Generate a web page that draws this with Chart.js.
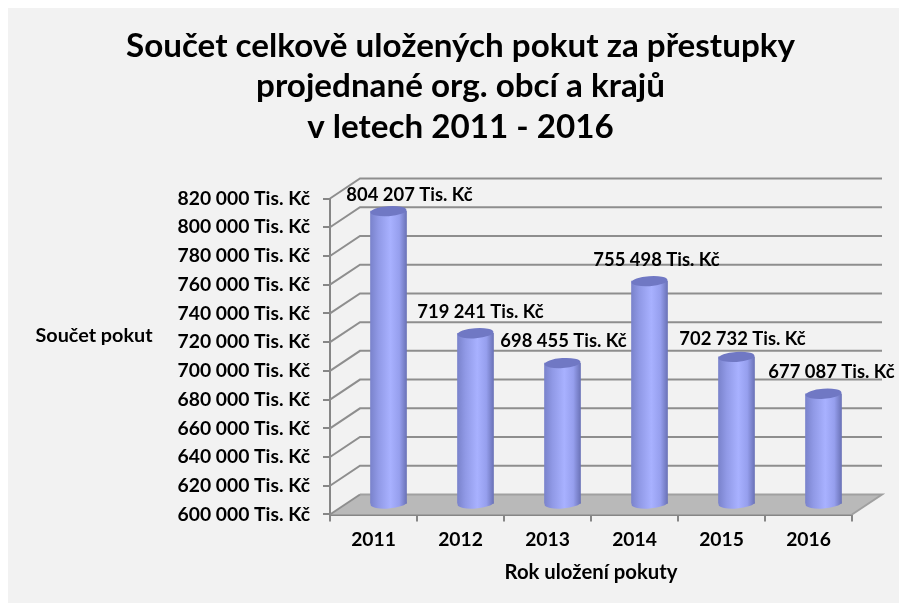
<!DOCTYPE html>
<html><head><meta charset="utf-8">
<style>html,body{margin:0;padding:0;background:#fff}#wrap{position:absolute;left:0;top:0;width:899px;height:603px}</style>
<script src="https://cdn.jsdelivr.net/npm/chart.js@4"></script></head>
<body><div id="wrap"><canvas id="c" width="899" height="603"></canvas></div>
<script>
const categories = ['2011','2012','2013','2014','2015','2016'];
const values = [804207,719241,698455,755498,702732,677087];
const titleLines = ['Součet celkově uložených pokut za přestupky','projednané org. obcí a krajů','v letech 2011 - 2016'];
const unit = ' Tis. Kč';
const yTitle = 'Součet pokut';
const xTitle = 'Rok uložení pokuty';
const labelDx = [21,5,1,7,6,8];
const labelLift = [16,21,22,21,18,22];

const FONT = 'Lato, Carlito, sans-serif';
const DEPTH_X = 30, DEPTH_Y = 20, BAR_W = 36;
const fmt = v => String(v).replace(/\B(?=(\d{3})+$)/g,' ') + unit;

const scene = {
  id:'scene',
  beforeDraw(ch){
    const c=ch.ctx; c.save(); c.fillStyle='#f2f2f2';
    c.fillRect(8,8,ch.width-8,ch.height-8); c.restore();
  },
  beforeDatasetsDraw(ch){
    const c=ch.ctx,{left,right,bottom}=ch.chartArea,y=ch.scales.y;
    c.save();
    c.fillStyle='#b9b9b9';
    c.beginPath();c.moveTo(left,bottom);c.lineTo(left+DEPTH_X,bottom-DEPTH_Y);
    c.lineTo(right+DEPTH_X,bottom-DEPTH_Y);c.lineTo(right,bottom);c.closePath();c.fill();
    c.strokeStyle='#8e8e8e';c.lineWidth=2;
    y.ticks.forEach(t=>{
      const p=y.getPixelForValue(t.value);
      if(t.value===y.min) return;
      c.beginPath();c.moveTo(left,p);c.lineTo(left+DEPTH_X,p-DEPTH_Y);
      c.lineTo(right+DEPTH_X,p-DEPTH_Y);c.stroke();
    });
    c.beginPath();c.moveTo(left,bottom);c.lineTo(left+DEPTH_X,bottom-DEPTH_Y);c.stroke();
    c.strokeStyle='#a0a0a0';
    c.beginPath();c.moveTo(right,bottom);c.lineTo(right+DEPTH_X,bottom-DEPTH_Y);
    c.lineTo(left+DEPTH_X,bottom-DEPTH_Y);c.stroke();
    c.restore();
  },
  beforeDatasetDraw(ch){ ch.ctx.save(); ch.ctx.translate(DEPTH_X/2,-DEPTH_Y/2); 
    const c=ch.ctx;
    ch.getDatasetMeta(0).data.forEach((b,i)=>{ // lower rim of each cylinder
      c.save();c.fillStyle=barGradient(c,b.x);c.beginPath();
      c.ellipse(b.x,b.base,BAR_W/2,5,-0.07,0,Math.PI*2);c.fill();c.restore();
    });
  },
  afterDatasetDraw(ch){
    const c=ch.ctx;
    ch.getDatasetMeta(0).data.forEach((b,i)=>{ // upper rim of each cylinder
      c.save();c.fillStyle='#7078c4';c.beginPath();
      c.ellipse(b.x,b.y,BAR_W/2,5,-0.07,0,Math.PI*2);c.fill();c.restore();
    });
    c.restore();
    c.save();
    c.fillStyle='#000';c.font='bold 18.4px '+FONT;c.textAlign='center';c.textBaseline='middle';
    ch.getDatasetMeta(0).data.forEach((b,i)=>{
      c.fillText(fmt(values[i]),b.x+DEPTH_X/2+labelDx[i],b.y-DEPTH_Y/2-labelLift[i]);
    });
    c.font='bold 19.8px '+FONT;
    c.fillText(yTitle,94,336);
    c.restore();
  }
};
function barGradient(c,x){
  if(!Number.isFinite(x)) return '#a8b1ff';
  const g=c.createLinearGradient(x-BAR_W/2,0,x+BAR_W/2,0);
  g.addColorStop(0,'#7a83cc');g.addColorStop(0.22,'#9099e6');g.addColorStop(0.55,'#a8b1ff');
  g.addColorStop(0.8,'#969fee');g.addColorStop(1,'#6b73b8');
  return g;
}
new Chart(document.getElementById('c'),{
  type:'bar',
  data:{labels:categories,datasets:[{data:values,base:600000,barThickness:BAR_W,borderWidth:0,clip:false,
    backgroundColor(ctx){
      const ch=ctx.chart;
      if(ctx.dataIndex===undefined||!ch.scales.x) return '#a8b1ff';
      return barGradient(ch.ctx,ch.scales.x.getPixelForValue(ctx.dataIndex));
    }}]},
  options:{
    responsive:false,animation:false,
    layout:{padding:{left:69,right:47,top:0,bottom:18}},
    plugins:{legend:{display:false},tooltip:{enabled:false},
      title:{display:true,text:titleLines,color:'#000',font:{family:FONT,size:33.2,weight:'bold',lineHeight:1.22},
        padding:{top:26,bottom:51},align:'center',
        fullSize:true}},
    scales:{
      x:{grid:{offset:true,drawOnChartArea:false,color:'#868686',lineWidth:2,tickLength:7},
        border:{color:'#868686',width:3},
        ticks:{color:'#000',padding:7,font:{family:FONT,size:19.3,weight:'bold'},maxRotation:0},
        title:{display:true,text:xTitle,color:'#000',font:{family:FONT,size:20.3,weight:'bold'},padding:{top:2,bottom:0}}},
      y:{min:600000,max:820000,
        afterFit(s){s.width=261;},
        grid:{drawOnChartArea:false,color:'#868686',lineWidth:2,tickLength:7},
        border:{color:'#868686',width:2},
        ticks:{stepSize:20000,color:'#000',padding:13,autoSkip:false,font:{family:FONT,size:19.3,weight:'bold'},callback:v=>fmt(v)}}
    }
  },
  plugins:[scene]
});
</script></body></html>
